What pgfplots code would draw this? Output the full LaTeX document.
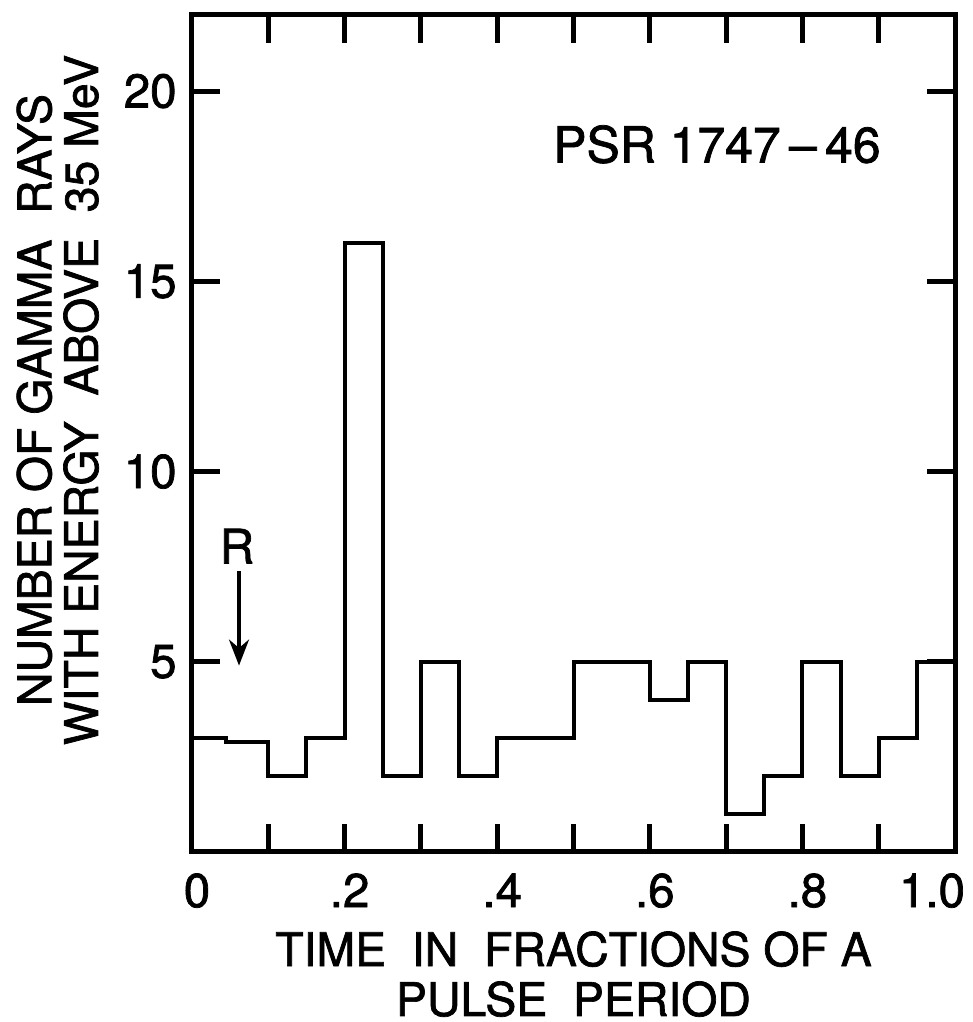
\documentclass[border=0pt]{standalone}
\usepackage{fontspec}
\setmainfont{TeX Gyre Heros}[FakeBold=1.5]
\usepackage{pgfplots}
\pgfplotsset{compat=1.18}
\usetikzlibrary{arrows.meta}
\begin{document}
\begin{tikzpicture}
\useasboundingbox (-19.2mm,-17.0mm) rectangle (78.1mm,85.2mm);
\begin{axis}[
  at={(0,0)}, anchor=south west,
  scale only axis, width=76.3mm, height=83.7mm,
  xmin=0, xmax=1, ymin=0, ymax=22,
  axis line style={line width=0.5mm},
  every tick/.style={black, line width=0.5mm},
  major tick length=2.8mm,
  tick align=inside,
  xtick={0,0.1,0.2,0.3,0.4,0.5,0.6,0.7,0.8,0.9,1},
  xticklabels={0,,.2,,.4,,.6,,.8,,\hspace*{-5.6mm}1.0},
  ytick={5,10,15,20},
  yticklabels={5,10,15,20},
  ticklabel style={font=\fontsize{13.5}{15}\selectfont},
  xticklabel style={yshift=-0.9mm, xshift=0.5mm},
  yticklabel style={xshift=-0.3mm},
  /pgf/number format/assume math mode=true,
  xlabel={TIME\ \ IN\ \ FRACTIONS OF A\\PULSE\ \ PERIOD},
  xlabel style={align=center, font=\fontsize{13.2}{14.2}\selectfont, at={(axis description cs:0.5,0)}, anchor=north, yshift=-6.7mm},
  ylabel={NUMBER OF GAMMA\ \ RAYS\\WITH ENERGY\ \ ABOVE\ \ 35 MeV},
  ylabel style={align=center, font=\fontsize{13.2}{13.3}\selectfont, at={(axis description cs:-0.176,0.54)}, anchor=center},
]
\addplot[const plot, black, line width=0.4mm, line join=miter] coordinates {
  (0,3) (0.045,2.9) (0.1,2) (0.15,3) (0.2,16) (0.25,2) (0.3,5) (0.35,2)
  (0.4,3) (0.5,5) (0.6,4) (0.65,5) (0.7,1) (0.75,2) (0.8,5) (0.85,2)
  (0.9,3) (0.95,5) (1.0,5)
};
\node[font=\fontsize{14.2}{15}\selectfont] at (axis cs:0.688,18.6) {PSR 1747\,–\,46};
\node[font=\fontsize{13.5}{15}\selectfont] at (axis cs:0.059,8.04) {R};
\draw[-{Stealth[length=2.6mm,width=2mm]}, line width=0.35mm] (axis cs:0.0616,7.38) -- (axis cs:0.0616,4.9);
\end{axis}
\end{tikzpicture}
\end{document}
